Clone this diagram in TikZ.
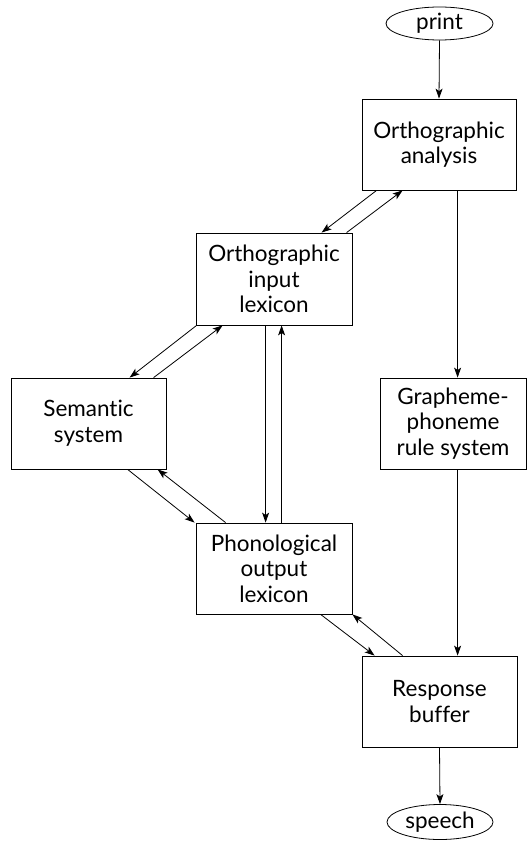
\documentclass[tikz,border=0pt]{standalone}
\usepackage{fontspec}
\setmainfont[Ligatures=NoCommon]{Lato}
\usetikzlibrary{arrows.meta,shapes.geometric}
\begin{document}
\begin{tikzpicture}[x=1pt,y=-1pt,
  box/.style={draw, line width=0.8pt, rectangle, align=center, inner sep=0pt,
    font=\fontsize{22.5}{25.7}\selectfont},
  oval/.style={draw, line width=0.8pt, ellipse, inner sep=0pt,
    font=\fontsize{22.5}{25.7}\selectfont},
  arr/.style={line width=0.8pt, -{Stealth[length=10pt,width=7pt,inset=2.5pt]}}]
\useasboundingbox (0,0) rectangle (528,842);
\node[oval, minimum width=107pt, minimum height=33pt] (print) at (439.5,23.5) {print};
\node[box, minimum width=154pt, minimum height=91pt] (OA) at (439,144.5) {Orthographic\\analysis};
\node[box, minimum width=156pt, minimum height=92pt] (OIL) at (274,279) {Orthographic\\input\\lexicon};
\node[box, minimum width=155pt, minimum height=91pt] (Sem) at (88.5,423.5) {Semantic\\system};
\node[box, minimum width=146pt, minimum height=91pt] (GP) at (453,423.5) {Grapheme-\\phoneme\\rule system};
\node[box, minimum width=156pt, minimum height=91pt] (POL) at (274,568.5) {Phonological\\output\\lexicon};
\node[box, minimum width=155pt, minimum height=91pt] (RB) at (439.5,701.5) {Response\\buffer};
\node[oval, minimum width=106pt, minimum height=35pt] (speech) at (440,822) {speech};

\draw[arr] (print.south) -- (OA.north);
\draw[arr] ([xshift=15pt]OA.south west) -- ([xshift=126pt]OIL.north west);
\draw[arr] ([xshift=151pt]OIL.north west) -- ([xshift=41pt]OA.south west);
\draw[arr] ([xshift=1pt]OIL.south west) -- ([xshift=119pt]Sem.north west);
\draw[arr] ([xshift=143pt]Sem.north west) -- ([xshift=27pt]OIL.south west);
\draw[arr] ([xshift=70pt]OIL.south west) -- ([xshift=70pt]POL.north west);
\draw[arr] ([xshift=86pt]POL.north west) -- ([xshift=86pt]OIL.south west);
\draw[arr] ([xshift=117pt]Sem.south west) -- ([xshift=-1pt]POL.north west);
\draw[arr] ([xshift=30pt]POL.north west) -- ([xshift=147pt]Sem.south west);
\draw[arr] ([xshift=96pt]OA.south west) -- ([xshift=78pt]GP.north west);
\draw[arr] ([xshift=78pt]GP.south west) -- ([xshift=96pt]RB.north west);
\draw[arr] ([xshift=125pt]POL.south west) -- ([xshift=13pt]RB.north west);
\draw[arr] ([xshift=41pt]RB.north west) -- (POL.south east);
\draw[arr] (RB.south) -- (speech.north);
\end{tikzpicture}
\end{document}
